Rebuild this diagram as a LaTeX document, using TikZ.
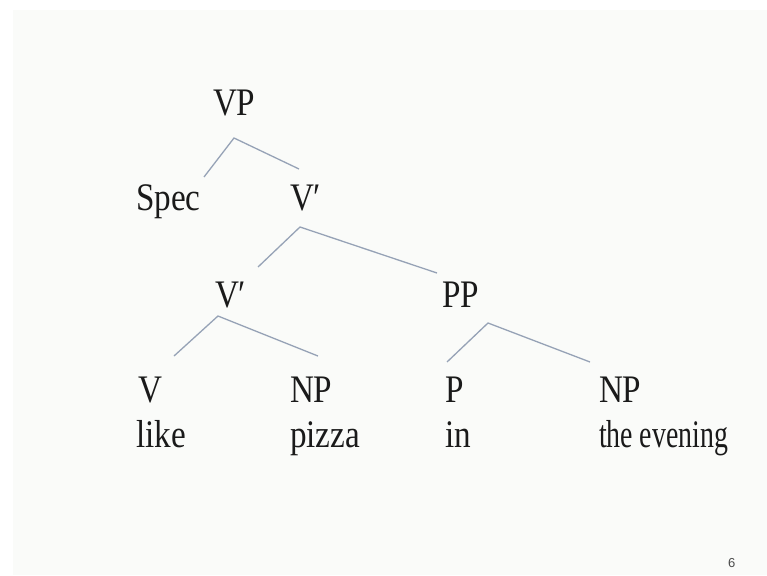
\documentclass[tikz,border=0pt]{standalone}
\usepackage{fontspec}
\setmainfont{Liberation Serif}[FakeStretch=0.85]
\newfontfamily\numfont{Liberation Sans}
\definecolor{panel}{HTML}{FAFBF9}
\definecolor{branch}{RGB}{150,162,182}
\definecolor{ink}{HTML}{1A1A1A}
\begin{document}
\begin{tikzpicture}[x=1pt,y=-1pt,
  lab/.style={anchor=base west,inner sep=0pt,outer sep=0pt,text=ink,font=\fontsize{39}{40}\selectfont},
  branchline/.style={draw=branch,line width=1.3pt}]
\useasboundingbox (0,0) rectangle (767,575);
\fill[white] (0,0) rectangle (767,575);
\fill[panel] (13,10) rectangle (767,575);
% labels
\node[lab] (vp) at (213,115) {VP};
\node[lab] (spec) at (136,210) {Spec};
\node[lab] (vbar1) at (290,210) {V′};
\node[lab] (vbar2) at (215,307) {V′};
\node[lab] (pp) at (442,307) {PP};
\node[lab] (v) at (138,402) {V};
\node[lab] (np1) at (290,402) {NP};
\node[lab] (p) at (445,402) {P};
\node[lab] (np2) at (599,402) {NP};
\node[lab] (like) at (136,447) {like};
\node[lab] (pizza) at (290,447) {pizza};
\node[lab] (in) at (445,447) {in};
\node[lab] (evening) at (599,447) {\scalebox{0.84}[1]{the evening}};
\node[anchor=base west,inner sep=0pt,text=black!70,font=\numfont\fontsize{13}{14}\selectfont] (pg) at (728,567) {6};
% branch points
\coordinate (vpA) at (234,138);
\coordinate (vpL) at (204,177);
\coordinate (vpR) at (299,169);
\coordinate (vb1A) at (300,227);
\coordinate (vb1L) at (258,267);
\coordinate (vb1R) at (437,273);
\coordinate (vb2A) at (218,316);
\coordinate (vb2L) at (174,356);
\coordinate (vb2R) at (318,356);
\coordinate (ppA) at (488,323);
\coordinate (ppL) at (447,362);
\coordinate (ppR) at (590,362);
% branches
\draw[branchline] (vpL) -- (vpA) -- (vpR);
\draw[branchline] (vb1L) -- (vb1A) -- (vb1R);
\draw[branchline] (vb2L) -- (vb2A) -- (vb2R);
\draw[branchline] (ppL) -- (ppA) -- (ppR);
\end{tikzpicture}
\end{document}
